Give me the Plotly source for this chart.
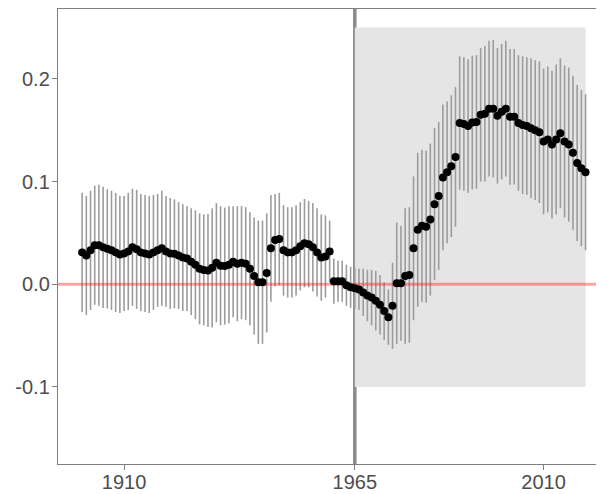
import plotly.graph_objects as go

years = list(range(1900, 2021))

estimate = [
    0.031, 0.028, 0.033, 0.038, 0.038, 0.036, 0.0345, 0.033, 0.031, 0.029,   # 1900-1909
    0.030, 0.032, 0.036, 0.034, 0.031, 0.030, 0.029, 0.031, 0.033, 0.035,    # 1910-1919
    0.032, 0.030, 0.0296, 0.028, 0.026, 0.025, 0.022, 0.019, 0.015, 0.014,   # 1920-1929
    0.0135, 0.016, 0.021, 0.018, 0.0177, 0.019, 0.022, 0.020, 0.021, 0.020,  # 1930-1939
    0.015, 0.008, 0.002, 0.002, 0.011, 0.035, 0.043, 0.044, 0.033, 0.031,    # 1940-1949
    0.031, 0.033, 0.037, 0.040, 0.039, 0.036, 0.031, 0.026, 0.027, 0.032,    # 1950-1959
    0.003, 0.003, 0.003, -0.001, -0.003, -0.004, -0.005, -0.008, -0.011, -0.013,  # 1960-1969
    -0.016, -0.020, -0.026, -0.032, -0.021, 0.001, 0.001, 0.008, 0.009, 0.035,    # 1970-1979
    0.053, 0.057, 0.056, 0.063, 0.078, 0.086, 0.104, 0.109, 0.115, 0.124,    # 1980-1989
    0.157, 0.156, 0.154, 0.1575, 0.158, 0.165, 0.166, 0.171, 0.171, 0.164,   # 1990-1999
    0.168, 0.171, 0.163, 0.163, 0.157, 0.155, 0.154, 0.152, 0.150, 0.148,    # 2000-2009
    0.139, 0.141, 0.136, 0.141, 0.147, 0.139, 0.136, 0.128, 0.118, 0.113,    # 2010-2019
    0.109,                                                                   # 2020
]

ci_half = [
    0.058, 0.058, 0.058, 0.058, 0.059, 0.059, 0.058, 0.058, 0.058, 0.057,
    0.056, 0.057, 0.057, 0.058, 0.057, 0.057, 0.057, 0.056, 0.055, 0.056,
    0.054, 0.054, 0.053, 0.052, 0.052, 0.051, 0.052, 0.053, 0.054, 0.054,
    0.055, 0.058, 0.058, 0.058, 0.057, 0.057, 0.054, 0.056, 0.055, 0.055,
    0.055, 0.057, 0.060, 0.060, 0.058, 0.052, 0.045, 0.045, 0.044, 0.044,
    0.044, 0.044, 0.043, 0.043, 0.042, 0.043, 0.043, 0.042, 0.040, 0.030,
    0.022, 0.020, 0.020, 0.020, 0.020, 0.020, 0.020, 0.023, 0.025, 0.027,
    0.029, 0.029, 0.028, 0.027, 0.042, 0.059, 0.056, 0.066, 0.066, 0.070,
    0.075, 0.074, 0.074, 0.074, 0.074, 0.072, 0.071, 0.069, 0.069, 0.068,
    0.065, 0.065, 0.065, 0.065, 0.065, 0.065, 0.066, 0.066, 0.067, 0.066,
    0.066, 0.066, 0.066, 0.066, 0.066, 0.067, 0.067, 0.068, 0.068, 0.069,
    0.071, 0.071, 0.072, 0.073, 0.073, 0.074, 0.075, 0.075, 0.076, 0.076,
    0.076,
]

x_ticks = [1910, 1965, 2010]
y_ticks = [-0.1, 0.0, 0.1, 0.2]
y_tick_labels = ["-0.1", "0.0", "0.1", "0.2"]

break_year = 1965
shade_end_year = 2020
shade_low, shade_high = -0.1, 0.25
x_range = [1894.25, 2024.4]
y_range = [-0.175, 0.268]

fig = go.Figure()

# error bars
fig.add_trace(go.Scatter(
    x=years, y=estimate, mode="markers",
    marker=dict(size=1, color="rgba(0,0,0,0)"),
    error_y=dict(type="data", array=ci_half, visible=True,
                 color="#9c9c9c", thickness=1.6, width=0),
    hoverinfo="skip", showlegend=False,
))

# reference line at zero
fig.add_trace(go.Scatter(
    x=x_range, y=[0, 0], mode="lines",
    line=dict(color="rgba(255,0,0,0.36)", width=3),
    hoverinfo="skip", showlegend=False,
))

# point estimates
fig.add_trace(go.Scatter(
    x=years, y=estimate, mode="markers",
    marker=dict(size=8, color="black"),
    showlegend=False,
))

fig.add_shape(type="rect", xref="x", yref="y",
              x0=break_year, x1=shade_end_year, y0=shade_low, y1=shade_high,
              fillcolor="#e5e5e5", line=dict(width=0), layer="below")
fig.add_shape(type="line", xref="x", yref="paper",
              x0=break_year, x1=break_year, y0=0, y1=1,
              line=dict(color="#8a8a8a", width=3.5), layer="below")

axis_font = dict(family="Liberation Sans, Arial, sans-serif", size=20, color="#4d4d4d")

# the page body has an 8px default margin, so the figure is sized to fit the window
fig.update_layout(
    width=596, height=486,
    margin=dict(l=50, r=0, t=1, b=30),
    paper_bgcolor="white", plot_bgcolor="white",
    xaxis=dict(range=x_range, tickvals=x_ticks, ticks="outside", ticklen=5,
               tickwidth=1.3, tickcolor="#7f7f7f", showline=True,
               linecolor="#7f7f7f", linewidth=1.4, mirror=True,
               showgrid=False, zeroline=False, tickfont=axis_font,
               ticklabelstandoff=-5),
    yaxis=dict(range=y_range, tickvals=y_ticks, ticktext=y_tick_labels,
               ticks="outside", ticklen=5, tickwidth=1.3, tickcolor="#7f7f7f",
               showline=True, linecolor="#7f7f7f", linewidth=1.4, mirror=False,
               showgrid=False, zeroline=False, tickfont=axis_font,
               ticklabelstandoff=-2),
)

fig.write_html("out.html")
